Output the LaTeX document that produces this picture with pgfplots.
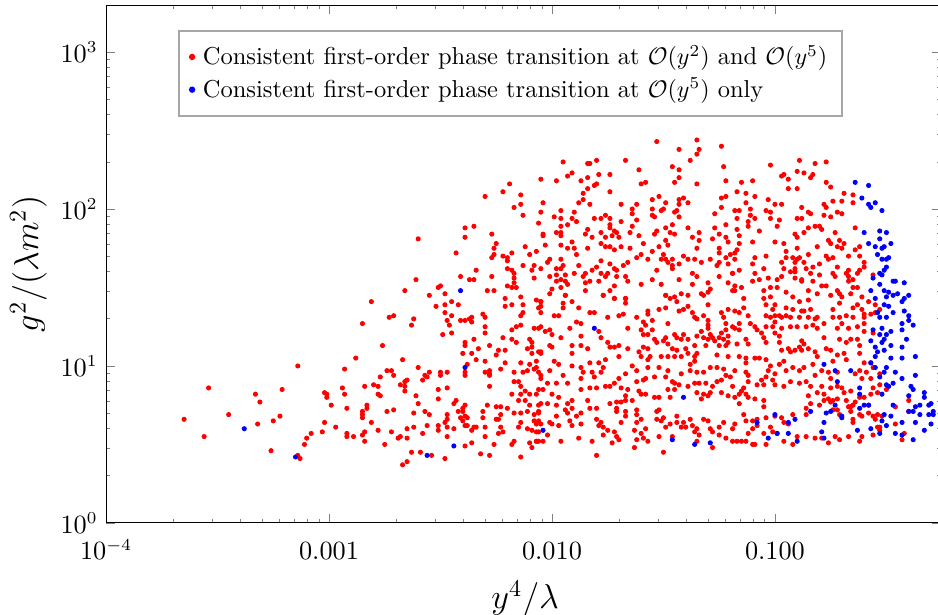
\documentclass[border=0pt]{standalone}
\usepackage{pgfplots}
\usepackage{pgfplotstable}
\pgfplotsset{compat=1.18}

% points, stored as log10(x) log10(y)
\pgfplotstableread[row sep=\\]{
lx ly\\
-3.14 1.00\\ -2.93 0.98\\ -3.54 0.86\\ -2.94 0.86\\ -3.33 0.82\\ -3.21 0.85\\ -3.02 0.83\\ -3.01 0.82\\ -3.01 0.80\\ -2.93 0.82\\
-3.31 0.77\\ -2.99 0.75\\ -2.92 0.73\\ -3.45 0.69\\ -3.65 0.66\\ -3.22 0.68\\ -3.25 0.65\\ -3.32 0.63\\ -3.02 0.64\\ -2.97 0.61\\
-3.03 0.58\\ -3.08 0.57\\ -3.10 0.54\\ -2.92 0.57\\ -2.92 0.55\\ -3.56 0.55\\ -3.11 0.50\\ -3.26 0.46\\ -3.14 0.43\\ -3.13 0.41\\
-2.19 2.16\\ -2.22 2.11\\ -2.30 2.08\\ -2.14 2.09\\ -2.05 2.19\\ -2.17 2.01\\ -2.14 2.03\\ -2.13 1.96\\ -2.05 1.98\\ -2.06 1.91\\
-2.04 1.84\\ -2.39 1.88\\ -2.35 1.89\\ -2.39 1.82\\ -2.60 1.81\\ -2.27 1.84\\ -2.25 1.78\\ -2.26 1.75\\ -2.12 1.76\\ -2.07 1.73\\
-2.10 1.71\\ -2.43 1.72\\ -2.27 1.69\\ -2.26 1.71\\ -2.22 1.70\\ -2.20 1.69\\ -2.20 1.67\\ -2.18 1.72\\ -2.13 1.64\\ -2.08 1.64\\
-2.05 1.62\\ -2.09 1.61\\ -2.20 1.62\\ -2.18 1.61\\ -2.17 1.59\\ -2.34 1.61\\ -2.08 1.56\\ -2.17 1.56\\ -2.17 1.53\\ -2.27 1.57\\
-2.41 1.57\\ -2.37 1.55\\ -2.35 1.55\\ -2.20 1.51\\ -2.18 1.50\\ -2.16 1.50\\ -2.29 1.48\\ -2.26 1.48\\ -2.61 1.55\\ -2.50 1.51\\
-2.51 1.50\\ -2.48 1.46\\ -2.55 1.45\\ -2.66 1.48\\ -2.14 1.44\\ -2.21 1.43\\ -2.07 1.42\\
-2.81 1.41\\ -2.52 1.38\\ -2.48 1.39\\ -2.45 1.41\\ -2.42 1.39\\ -2.48 1.34\\ -2.45 1.32\\ -2.47 1.29\\ -2.41 1.29\\ -2.39 1.29\\
-2.37 1.30\\ -2.36 1.31\\ -2.36 1.28\\ -2.31 1.33\\ -2.30 1.31\\ -2.30 1.25\\ -2.46 1.26\\ -2.45 1.21\\ -2.49 1.20\\ -2.73 1.31\\
-2.71 1.32\\ -2.62 1.30\\ -2.63 1.26\\ -2.85 1.27\\ -2.30 1.21\\ -2.21 1.38\\ -2.18 1.39\\ -2.13 1.39\\ -2.13 1.34\\ -2.05 1.41\\
-2.06 1.37\\ -2.05 1.34\\ -2.14 1.32\\ -2.14 1.26\\ -2.16 1.25\\ -2.18 1.23\\ -2.08 1.24\\ -2.05 1.25\\ -2.22 1.18\\ -2.18 1.17\\
-2.16 1.15\\ -2.10 1.17\\ -2.09 1.15\\ -2.11 1.11\\ -2.09 1.12\\ -2.06 1.09\\ -2.05 1.08\\ -2.09 1.08\\ -2.07 1.03\\ -2.10 1.01\\
-2.08 0.98\\ -2.07 0.99\\ -2.06 0.96\\ -2.14 1.02\\ -2.17 0.96\\ -2.13 0.96\\ -2.11 0.97\\ -2.05 0.94\\ -2.15 0.90\\ -2.17 0.90\\
-2.14 0.87\\ -2.12 0.84\\ -2.10 0.82\\ -2.07 0.82\\ -2.06 0.85\\ -2.18 0.82\\ -2.15 0.78\\ -2.12 0.78\\ -2.14 0.82\\ -2.10 0.75\\
-2.06 0.75\\ -2.06 0.71\\ -2.08 0.69\\ -2.11 0.71\\ -2.17 0.70\\ -2.20 0.73\\ -2.14 0.70\\ -2.14 0.64\\ -2.15 0.61\\ -2.08 0.65\\
-2.07 0.63\\ -2.11 0.60\\ -2.09 0.59\\ -2.07 0.58\\ -2.06 0.58\\ -2.05 0.63\\ -2.10 0.51\\ -2.07 0.52\\ -2.06 0.52\\ -2.09 0.48\\
-2.17 0.52\\ -2.18 0.50\\ -2.14 0.42\\
-2.39 1.15\\ -2.39 1.13\\ -2.35 1.17\\ -2.33 1.11\\ -2.28 1.13\\ -2.36 1.08\\ -2.40 1.08\\ -2.34 1.04\\ -2.30 1.03\\ -2.24 1.10\\
-2.21 1.10\\ -2.25 1.07\\ -2.21 1.02\\ -2.23 0.98\\ -2.38 1.01\\ -2.39 0.96\\ -2.39 0.94\\ -2.30 0.96\\ -2.28 0.95\\ -2.28 0.94\\
-2.28 0.97\\ -2.28 0.87\\ -2.76 1.13\\ -2.88 1.05\\ -2.67 1.04\\ -2.60 0.99\\ -2.55 0.96\\ -2.57 0.94\\ -2.56 0.93\\ -2.50 0.96\\
-2.47 0.96\\ -2.50 0.94\\ -2.74 0.97\\ -2.72 0.97\\ -2.71 0.94\\ -2.77 0.93\\ -2.65 0.91\\ -2.66 0.90\\ -2.68 0.88\\ -2.66 0.87\\
-2.66 0.84\\ -2.58 0.91\\ -2.80 0.88\\ -2.78 0.87\\ -2.84 0.87\\ -2.51 0.85\\ -2.47 0.86\\ -2.78 0.82\\ -2.77 0.81\\ -2.61 0.81\\
-2.51 0.79\\ -2.43 0.78\\ -2.44 0.76\\ -2.60 0.76\\ -2.39 0.75\\ -2.40 0.73\\ -2.40 0.71\\ -2.42 0.71\\ -2.29 0.75\\ -2.25 0.74\\
-2.23 0.74\\ -2.23 0.69\\ -2.25 0.66\\ -2.24 0.66\\ -2.23 0.61\\ -2.24 0.57\\ -2.22 0.58\\ -2.83 0.75\\ -2.83 0.73\\ -2.85 0.71\\
-2.85 0.69\\ -2.85 0.67\\ -2.74 0.71\\ -2.71 0.72\\ -2.62 0.70\\ -2.55 0.69\\ -2.57 0.71\\ -2.47 0.69\\ -2.47 0.66\\ -2.41 0.67\\
-2.40 0.65\\ -2.39 0.68\\ -2.38 0.67\\ -2.39 0.62\\ -2.38 0.62\\ -2.35 0.61\\ -2.34 0.61\\ -2.31 0.67\\ -2.31 0.71\\ -2.30 0.61\\
-2.36 0.59\\ -2.30 0.55\\ -2.26 0.50\\ -2.36 0.51\\ -2.39 0.49\\ -2.32 0.44\\ -2.28 0.43\\ -2.48 0.41\\ -2.54 0.43\\ -2.59 0.45\\
-2.63 0.45\\ -2.65 0.39\\ -2.67 0.37\\ -2.75 0.50\\ -2.84 0.52\\ -2.85 0.56\\ -2.84 0.58\\ -2.89 0.55\\ -2.81 0.64\\ -2.78 0.59\\
-2.72 0.58\\ -2.69 0.54\\ -2.68 0.55\\ -2.65 0.54\\ -2.62 0.61\\ -2.65 0.60\\ -2.58 0.57\\ -2.56 0.62\\ -2.51 0.62\\ -2.51 0.59\\
-2.48 0.64\\ -2.47 0.61\\ -2.47 0.55\\ -2.44 0.60\\
-1.53 2.43\\ -1.43 2.38\\ -1.35 2.44\\ -1.24 2.40\\ -1.34 2.38\\ -1.35 2.35\\ -1.23 2.27\\ -1.38 2.31\\ -1.95 2.30\\ -1.84 2.29\\
-1.83 2.29\\ -1.80 2.31\\ -1.67 2.31\\ -1.61 2.25\\ -1.46 2.27\\ -1.43 2.25\\ -1.43 2.20\\ -1.35 2.16\\ -1.45 2.17\\ -1.22 2.18\\
-1.98 2.18\\ -1.93 2.21\\ -1.91 2.23\\ -1.79 2.22\\ -1.74 2.22\\ -1.87 2.18\\ -1.84 2.20\\ -1.80 2.16\\ -1.81 2.15\\ -1.58 2.17\\
-1.60 2.16\\ -1.84 2.13\\ -1.86 2.10\\ -1.86 2.06\\ -1.88 2.04\\ -1.74 2.11\\ -1.83 2.03\\ -2.04 2.04\\ -1.96 1.99\\ -1.90 1.98\\
-1.99 1.95\\ -1.96 1.94\\ -1.91 1.94\\ -1.89 1.92\\ -1.93 1.90\\ -1.96 1.89\\ -1.81 1.94\\ -1.76 1.96\\ -1.74 1.94\\ -1.78 1.94\\
-1.74 1.90\\ -1.69 2.03\\ -1.62 2.03\\ -1.64 2.00\\ -1.64 1.97\\ -1.62 1.93\\ -1.69 1.92\\ -1.64 1.89\\ -1.55 2.06\\ -1.55 2.00\\
-1.55 1.96\\ -1.54 1.95\\ -1.52 2.08\\ -1.49 2.04\\ -1.50 2.00\\ -1.51 1.99\\ -1.45 1.98\\ -1.44 1.99\\ -1.43 1.95\\ -1.43 2.03\\
-1.41 2.07\\ -1.43 2.06\\ -1.39 2.04\\ -1.46 1.90\\ -1.49 1.88\\ -1.53 1.86\\ -1.54 1.84\\ -1.47 1.85\\ -1.45 1.84\\ -1.39 1.88\\
-1.34 1.85\\ -1.37 1.82\\ -1.34 1.80\\ -1.27 1.88\\ -1.25 1.84\\ -1.28 1.81\\ -1.24 2.01\\ -1.27 1.97\\ -1.24 2.07\\ -1.22 2.08\\
-1.22 1.90\\ -1.18 1.99\\ -1.22 1.82\\ -1.21 1.79\\ -1.25 1.75\\ -1.35 1.75\\ -1.25 1.72\\ -1.20 1.71\\ -1.18 1.72\\ -1.22 1.69\\
-1.21 1.65\\ -1.26 1.64\\ -1.25 1.66\\ -1.29 1.68\\ -1.33 1.66\\ -1.36 1.68\\ -1.41 1.70\\ -1.39 1.68\\ -1.43 1.65\\ -1.37 1.59\\
-1.35 1.57\\ -1.37 1.52\\ -1.43 1.55\\ -1.46 1.64\\ -1.46 1.62\\ -1.46 1.68\\ -1.49 1.68\\ -1.48 1.66\\ -1.51 1.68\\ -1.52 1.76\\
-1.50 1.71\\ -1.48 1.77\\ -1.49 1.80\\ -1.55 1.73\\ -1.57 1.68\\ -1.60 1.71\\ -1.62 1.69\\ -1.65 1.75\\ -1.69 1.76\\ -1.59 1.78\\
-1.61 1.83\\ -1.65 1.85\\ -1.70 1.82\\ -1.71 1.85\\ -1.72 1.86\\ -1.73 1.83\\ -1.74 1.88\\ -1.78 1.85\\ -1.76 1.82\\ -1.78 1.78\\
-1.76 1.76\\ -1.74 1.76\\ -1.72 1.74\\ -1.68 1.64\\ -1.66 1.66\\ -1.72 1.62\\ -1.74 1.65\\ -1.78 1.67\\ -1.80 1.63\\ -1.82 1.61\\
-1.78 1.59\\ -1.79 1.54\\ -1.76 1.57\\ -1.75 1.59\\ -1.71 1.61\\ -1.71 1.57\\ -1.67 1.57\\ -1.66 1.54\\ -1.72 1.51\\ -1.74 1.48\\
-1.77 1.45\\ -1.67 1.43\\ -1.72 1.43\\ -1.85 1.48\\ -1.85 1.53\\ -1.88 1.64\\ -1.85 1.59\\ -1.84 1.75\\ -1.85 1.84\\ -1.82 1.82\\
-1.84 1.87\\ -1.89 1.71\\ -1.90 1.75\\ -1.93 1.75\\ -1.91 1.79\\ -1.96 1.83\\ -1.96 1.77\\ -1.96 1.85\\ -1.98 1.85\\ -2.04 1.83\\
-2.03 1.77\\ -2.02 1.66\\ -2.01 1.68\\ -1.96 1.68\\ -1.95 1.64\\ -1.96 1.62\\ -1.98 1.62\\ -2.01 1.57\\ -1.98 1.58\\ -1.96 1.55\\
-1.94 1.58\\ -1.98 1.54\\ -1.94 1.54\\ -1.93 1.52\\ -1.96 1.50\\ -2.00 1.49\\ -2.01 1.46\\ -1.94 1.45\\ -1.90 1.59\\ -1.86 1.57\\
-1.83 1.54\\ -1.60 1.52\\ -1.55 1.55\\ -1.51 1.52\\ -1.53 1.61\\ -1.49 1.45\\ -1.47 1.43\\ -1.45 1.44\\ -1.42 1.46\\ -1.39 1.45\\
-1.33 1.46\\ -1.32 1.45\\ -1.30 1.47\\ -1.29 1.49\\ -1.30 1.53\\ -1.25 1.57\\ -1.19 1.59\\ -1.21 1.53\\ -1.18 1.48\\
-2.05 1.41\\ -2.05 1.38\\ -1.94 1.45\\ -1.95 1.40\\ -1.91 1.41\\ -1.88 1.37\\ -1.95 1.37\\ -1.99 1.32\\ -1.97 1.32\\ -1.83 1.34\\
-1.81 1.34\\ -1.77 1.45\\ -1.72 1.43\\ -1.67 1.43\\ -1.67 1.40\\ -1.75 1.31\\ -1.70 1.32\\ -1.68 1.33\\ -1.62 1.31\\ -1.57 1.35\\
-1.57 1.33\\ -1.55 1.29\\ -1.59 1.28\\ -1.58 1.26\\ -1.49 1.45\\ -1.44 1.41\\ -1.52 1.36\\ -1.49 1.37\\ -1.43 1.35\\ -1.41 1.36\\
-1.39 1.38\\ -1.37 1.34\\ -1.30 1.39\\ -1.36 1.31\\ -1.35 1.30\\ -1.32 1.32\\ -1.30 1.29\\ -1.30 1.26\\ -1.30 1.24\\ -1.24 1.34\\
-1.23 1.31\\ -1.21 1.36\\ -1.18 1.35\\ -1.22 1.27\\ -1.22 1.23\\ -1.24 1.21\\ -1.18 1.24\\
-2.06 1.24\\ -2.03 1.22\\ -2.00 1.20\\ -2.01 1.23\\ -1.96 1.18\\ -1.92 1.24\\ -1.89 1.28\\ -1.87 1.27\\ -1.87 1.19\\ -1.79 1.22\\
-1.78 1.18\\ -1.75 1.15\\ -1.74 1.12\\ -1.72 1.12\\ -1.70 1.13\\ -1.66 1.11\\ -1.66 1.24\\ -1.60 1.23\\ -1.59 1.20\\ -1.55 1.23\\
-1.57 1.20\\ -1.54 1.17\\ -1.53 1.15\\ -1.57 1.11\\ -1.59 1.12\\ -1.61 1.09\\ -1.60 1.06\\ -1.48 1.27\\ -1.49 1.18\\ -1.50 1.16\\
-1.48 1.14\\ -1.45 1.20\\ -1.44 1.18\\ -1.41 1.20\\ -1.42 1.17\\ -1.46 1.11\\ -1.44 1.10\\ -1.39 1.17\\ -1.35 1.19\\ -1.33 1.22\\
-1.32 1.18\\ -1.30 1.17\\ -1.29 1.20\\ -1.28 1.18\\ -1.25 1.18\\ -1.27 1.16\\ -1.23 1.17\\ -1.21 1.15\\ -1.21 1.19\\ -1.25 1.13\\
-1.22 1.13\\ -1.31 1.13\\ -1.35 1.08\\ -1.36 1.06\\ -1.36 1.13\\ -1.40 1.11\\ -1.39 1.08\\ -1.42 1.06\\ -1.45 1.06\\ -1.48 1.06\\
-1.51 1.06\\ -1.56 1.06\\ -1.57 1.04\\ -1.21 1.06\\ -1.26 1.07\\ -2.01 1.13\\ -2.00 1.12\\ -2.05 1.09\\ -1.91 1.13\\ -1.91 1.08\\
-1.87 1.13\\ -1.84 1.11\\ -1.76 1.04\\ -1.70 1.06\\
-1.99 1.03\\ -1.97 1.01\\ -2.01 0.97\\ -1.91 1.00\\ -1.87 0.99\\ -1.86 0.96\\ -1.83 1.02\\ -1.79 1.02\\ -1.77 0.99\\ -1.95 0.94\\
-1.87 0.92\\ -1.82 0.96\\ -1.81 0.93\\ -1.78 0.96\\ -1.70 0.92\\ -1.67 0.95\\ -1.62 0.97\\ -1.57 0.99\\ -1.52 0.99\\ -1.48 0.97\\
-1.42 0.95\\ -1.54 0.93\\ -1.58 0.92\\ -1.59 0.91\\ -1.64 1.00\\ -1.62 0.90\\ -1.49 0.93\\ -1.46 0.90\\ -1.45 0.89\\ -1.43 0.88\\
-1.45 0.85\\ -1.48 0.85\\ -1.38 1.01\\ -1.36 1.03\\ -1.38 0.97\\ -1.35 0.96\\ -1.32 0.96\\ -1.29 0.99\\ -1.26 0.99\\ -1.23 0.98\\
-1.22 0.94\\ -1.20 0.93\\ -1.24 0.91\\ -1.26 0.90\\ -1.28 0.87\\ -1.31 0.89\\ -1.34 0.89\\ -1.36 0.89\\ -1.39 0.87\\ -1.35 0.83\\
-1.32 0.82\\ -1.33 0.79\\ -1.30 0.81\\ -1.29 0.83\\ -1.24 0.83\\ -1.21 0.81\\ -1.18 0.80\\ -2.05 0.92\\ -2.02 0.89\\ -2.04 0.85\\
-2.00 0.82\\ -1.97 0.80\\ -2.05 0.76\\ -1.98 0.89\\ -1.93 0.89\\ -1.87 0.85\\ -1.83 0.86\\ -1.80 0.86\\ -1.76 0.87\\ -1.74 0.87\\
-1.72 0.89\\ -1.69 0.86\\ -1.66 0.85\\ -1.67 0.81\\ -1.61 0.84\\ -1.60 0.82\\ -1.58 0.82\\ -1.54 0.80\\ -1.52 0.80\\ -1.47 0.80\\
-2.02 0.76\\ -1.98 0.75\\ -1.93 0.76\\ -1.91 0.78\\ -1.91 0.73\\ -1.94 0.72\\ -1.93 0.70\\ -1.98 0.68\\ -1.97 0.62\\ -2.01 0.64\\
-2.00 0.63\\ -2.06 0.70\\ -2.06 0.65\\ -2.07 0.52\\ -2.04 0.52\\ -2.02 0.56\\ -1.96 0.52\\ -1.92 0.65\\ -1.91 0.62\\ -1.88 0.54\\
-1.84 0.78\\ -1.87 0.70\\ -1.89 0.68\\ -1.83 0.73\\ -1.80 0.73\\ -1.80 0.66\\ -1.79 0.62\\ -1.78 0.64\\ -1.77 0.61\\ -1.77 0.56\\
-1.75 0.59\\ -1.74 0.76\\ -1.71 0.77\\ -1.69 0.77\\ -1.67 0.78\\ -1.64 0.78\\ -1.71 0.73\\ -1.71 0.71\\ -1.67 0.71\\ -1.67 0.68\\
-1.69 0.64\\ -1.72 0.58\\ -1.71 0.55\\ -1.70 0.53\\ -1.73 0.51\\ -1.62 0.72\\ -1.62 0.69\\ -1.62 0.64\\ -1.60 0.66\\ -1.63 0.59\\
-1.58 0.60\\ -1.60 0.57\\ -1.62 0.53\\ -1.59 0.54\\ -1.57 0.52\\ -1.53 0.71\\ -1.52 0.72\\ -1.53 0.66\\ -1.51 0.65\\ -1.50 0.67\\
-1.44 0.68\\ -1.47 0.63\\ -1.49 0.61\\ -1.52 0.55\\ -1.50 0.45\\ -1.44 0.64\\ -1.42 0.61\\ -1.41 0.64\\ -1.38 0.66\\ -1.40 0.61\\
-1.37 0.62\\ -1.36 0.58\\ -1.35 0.60\\ -1.32 0.66\\ -1.30 0.65\\ -1.29 0.60\\ -1.28 0.58\\ -1.34 0.56\\ -1.35 0.52\\ -1.28 0.48\\
-1.25 0.56\\ -1.22 0.54\\ -1.19 0.52\\ -1.23 0.64\\ -1.25 0.61\\ -1.17 0.52\\ -1.46 0.55\\ -1.63 0.48\\ -1.82 0.52\\ -1.80 0.43\\
-1.87 0.63\\
-0.90 2.24\\ -0.87 2.23\\ -0.84 2.20\\ -0.83 2.22\\ -0.97 2.21\\ -0.96 2.22\\ -0.94 2.19\\ -1.15 2.17\\ -1.10 2.18\\ -1.17 2.11\\
-1.13 2.10\\ -1.09 2.08\\ -0.94 2.13\\ -0.90 2.13\\ -0.77 2.17\\ -0.75 2.14\\ -0.69 2.10\\ -0.65 2.09\\ -1.13 2.04\\ -1.03 2.06\\
-1.00 2.03\\ -0.97 2.03\\ -1.11 2.00\\ -1.16 1.99\\ -1.11 1.96\\ -1.04 1.99\\ -1.02 1.98\\ -0.88 2.01\\ -0.85 1.98\\ -0.84 1.97\\
-0.78 2.03\\ -0.77 2.01\\ -0.74 2.05\\ -0.70 2.05\\ -0.65 2.04\\ -0.72 1.98\\ -0.70 1.97\\ -0.75 1.95\\ -0.78 1.96\\ -1.17 1.94\\
-1.09 1.94\\ -1.12 1.92\\ -1.12 1.89\\ -1.02 1.94\\ -0.98 1.93\\ -0.90 1.94\\ -0.88 1.94\\ -1.17 1.87\\ -1.07 1.86\\ -0.99 1.89\\
-0.85 1.88\\ -0.82 1.89\\ -0.80 1.89\\ -0.79 1.87\\ -0.64 1.88\\ -1.16 1.83\\ -0.91 1.84\\ -0.87 1.85\\ -0.90 1.82\\ -0.73 1.85\\
-1.10 1.79\\ -1.00 1.79\\ -0.96 1.78\\ -1.16 1.78\\ -0.76 1.80\\ -0.75 1.78\\ -0.71 1.80\\ -0.69 1.78\\ -0.72 1.76\\ -0.70 1.75\\
-0.62 1.76\\ -0.81 1.76\\ -0.90 1.75\\ -0.95 1.73\\ -1.17 1.74\\ -1.18 1.68\\ -1.09 1.69\\ -1.04 1.70\\ -0.95 1.69\\ -0.92 1.69\\
-0.89 1.69\\ -0.90 1.68\\ -0.87 1.66\\ -0.85 1.71\\ -0.77 1.70\\ -0.76 1.68\\ -0.74 1.69\\ -0.64 1.74\\ -0.67 1.70\\ -0.62 1.70\\
-0.60 1.66\\ -1.10 1.65\\ -1.05 1.62\\ -0.96 1.62\\ -0.91 1.62\\ -0.97 1.66\\ -0.91 1.66\\ -0.91 1.60\\ -0.93 1.60\\ -0.86 1.62\\
-0.83 1.63\\ -0.80 1.65\\ -0.72 1.63\\ -0.67 1.61\\ -0.62 1.61\\ -0.60 1.63\\ -0.63 1.59\\ -1.16 1.61\\ -1.19 1.59\\ -0.74 1.59\\
-0.73 1.57\\ -0.68 1.59\\ -0.67 1.57\\ -0.56 1.58\\ -1.09 1.59\\ -0.97 1.57\\ -0.99 1.55\\ -0.91 1.56\\ -0.88 1.55\\ -0.84 1.59\\
-0.80 1.58\\ -1.10 1.54\\ -1.07 1.55\\ -1.03 1.56\\ -1.18 1.51\\ -1.15 1.50\\ -1.19 1.48\\ -1.14 1.43\\ -1.05 1.48\\ -1.02 1.50\\
-0.99 1.50\\ -0.88 1.54\\ -0.83 1.54\\ -0.79 1.51\\ -0.77 1.51\\ -0.85 1.48\\ -0.81 1.46\\ -0.75 1.45\\ -0.72 1.48\\ -0.71 1.46\\
-0.70 1.44\\ -0.67 1.54\\ -0.65 1.55\\ -0.65 1.50\\ -0.66 1.46\\ -0.63 1.50\\ -0.61 1.44\\ -0.58 1.41\\ -1.05 1.43\\ -1.02 1.44\\
-0.95 1.47\\ -0.92 1.44\\ -0.89 1.41\\ -0.85 1.42\\ -1.04 1.39\\ -1.00 1.39\\ -1.01 1.36\\ -0.95 1.37\\ -0.92 1.36\\ -0.88 1.35\\
-0.84 1.36\\ -0.74 1.36\\ -0.71 1.40\\ -0.65 1.37\\ -0.63 1.39\\ -0.61 1.36\\ -0.60 1.33\\ -0.57 1.33\\ -0.55 1.39\\ -0.55 1.34\\
-0.53 1.36\\ -1.14 1.37\\ -1.16 1.34\\ -1.12 1.32\\ -1.04 1.32\\ -1.00 1.32\\ -0.98 1.32\\ -0.95 1.32\\ -0.87 1.35\\ -0.81 1.31\\
-0.74 1.31\\ -0.68 1.32\\ -0.65 1.31\\ -0.89 2.31\\ -0.82 2.29\\ -1.02 2.28\\ -0.77 2.30\\
-1.19 1.25\\ -1.16 1.27\\ -1.16 1.23\\ -1.11 1.27\\ -1.09 1.25\\ -1.08 1.23\\ -1.02 1.31\\ -0.97 1.31\\ -0.93 1.31\\ -0.89 1.31\\
-0.85 1.31\\ -0.82 1.30\\ -0.78 1.27\\ -0.71 1.31\\ -0.60 1.31\\ -1.00 1.28\\ -1.01 1.25\\ -1.04 1.25\\ -1.06 1.21\\ -1.05 1.18\\
-1.00 1.21\\ -0.98 1.19\\ -0.97 1.24\\ -0.93 1.25\\ -0.90 1.25\\ -0.86 1.25\\ -0.83 1.26\\ -0.81 1.24\\ -0.78 1.18\\ -0.72 1.24\\
-0.70 1.27\\ -0.67 1.24\\ -0.63 1.25\\ -0.60 1.27\\ -0.60 1.22\\ -0.56 1.21\\ -0.71 1.17\\ -0.68 1.15\\ -0.66 1.17\\ -0.63 1.17\\
-1.13 1.17\\ -1.17 1.14\\ -1.12 1.14\\ -1.16 1.06\\ -1.13 1.05\\ -1.13 1.02\\ -1.18 0.97\\ -1.13 0.96\\ -1.12 0.94\\ -1.09 1.05\\
-1.07 1.05\\ -1.04 1.04\\ -1.02 1.00\\ -0.98 1.01\\ -0.96 1.03\\ -0.93 1.09\\ -0.94 1.11\\ -0.91 1.10\\ -0.89 1.12\\ -0.88 1.10\\
-0.87 1.14\\ -0.88 1.16\\ -0.85 1.11\\ -0.82 1.09\\ -0.81 1.06\\ -0.77 1.11\\ -0.75 1.10\\ -0.74 1.03\\ -0.72 1.07\\ -0.69 1.08\\
-0.68 1.04\\ -0.62 1.08\\ -0.62 1.13\\ -0.60 1.02\\ -0.57 1.02\\ -1.04 1.15\\ -0.98 1.15\\ -0.97 1.10\\ -1.03 0.97\\ -1.00 0.95\\
-0.95 0.97\\ -0.92 0.99\\ -0.89 0.97\\ -0.87 0.99\\ -0.83 1.01\\ -0.82 0.94\\ -0.79 0.97\\ -0.76 0.96\\ -0.72 0.96\\ -0.75 0.92\\
-0.75 0.86\\ -0.72 0.87\\ -0.70 0.86\\ -0.69 0.83\\ -0.72 0.79\\ -0.74 0.78\\ -0.76 0.79\\ -0.78 0.82\\ -0.81 0.83\\ -0.79 0.87\\
-0.84 0.87\\ -0.86 0.90\\ -0.89 0.89\\ -0.93 0.90\\ -0.96 0.87\\ -1.00 0.88\\ -1.01 0.91\\ -1.04 0.93\\ -1.06 0.91\\ -1.05 0.88\\
-1.08 0.88\\ -1.12 0.90\\ -1.14 0.86\\ -1.15 0.84\\ -1.13 0.82\\ -1.16 0.82\\ -1.19 0.87\\ -1.12 0.80\\ -1.09 0.79\\ -1.05 0.78\\
-1.05 0.74\\ -1.16 0.76\\ -1.14 0.69\\ -1.13 0.65\\ -1.18 0.63\\ -1.10 0.65\\ -1.08 0.66\\ -1.04 0.67\\ -1.00 0.68\\ -0.97 0.67\\
-0.96 0.64\\ -0.92 0.69\\ -0.94 0.63\\ -0.85 0.81\\ -0.84 0.76\\ -0.86 0.73\\ -0.86 0.69\\ -0.80 0.75\\ -0.78 0.78\\ -0.75 0.77\\
-0.74 0.72\\ -0.72 0.72\\ -0.71 0.69\\ -0.68 0.78\\ -0.66 0.74\\ -0.64 0.77\\ -0.66 0.84\\ -0.62 0.80\\ -0.65 0.64\\ -0.58 0.70\\
-0.56 0.68\\ -0.54 0.61\\ -0.54 0.69\\ -0.56 0.56\\ -0.53 0.59\\ -0.57 0.82\\ -0.56 0.86\\ -0.54 0.83\\ -0.50 0.85\\ -0.53 0.88\\
-0.56 0.99\\ -0.57 0.92\\ -0.62 0.97\\ -0.64 0.95\\ -0.61 0.92\\ -0.59 0.96\\ -0.53 0.95\\ -0.58 0.75\\ -0.62 0.69\\ -0.60 0.80\\
-0.40 0.78\\ -0.40 0.71\\ -0.46 0.74\\ -0.46 0.63\\ -0.42 0.57\\ -0.43 0.53\\ -0.62 0.52\\ -0.67 0.55\\ -0.71 0.53\\ -0.73 0.55\\
-0.76 0.51\\ -0.79 0.54\\ -0.82 0.54\\ -0.86 0.55\\ -0.90 0.55\\ -0.92 0.50\\ -0.96 0.52\\ -0.99 0.57\\ -1.01 0.58\\ -1.02 0.61\\
-1.05 0.57\\ -1.08 0.62\\ -1.10 0.60\\ -1.12 0.57\\ -1.19 0.60\\ -1.15 0.52\\ -1.13 0.52\\ -1.10 0.50\\ -1.09 0.50\\ -1.04 0.50\\
-0.65 0.75\\ -0.67 0.74\\ -0.66 0.71\\ -0.65 0.66\\ -0.61 0.68\\ -0.55 0.66\\ -0.53 0.61\\ -0.52 0.68\\ -0.61 0.55\\
}\redpts

\pgfplotstableread[row sep=\\]{
lx ly\\
-3.38 0.60\\ -3.15 0.42\\ -2.41 1.48\\ -2.39 0.99\\ -2.44 0.49\\ -2.56 0.43\\ -1.81 1.24\\ -1.41 0.80\\ -2.04 0.59\\ -1.46 0.53\\
-1.36 0.50\\ -1.29 0.51\\
-0.64 2.17\\ -0.58 2.15\\ -0.61 2.07\\ -0.58 2.03\\ -0.57 2.01\\ -0.55 2.04\\ -0.52 1.99\\ -0.60 1.85\\ -0.53 1.86\\ -0.50 1.85\\
-0.53 1.81\\ -0.58 1.78\\ -0.55 1.76\\ -0.51 1.76\\ -0.48 1.78\\ -0.52 1.75\\ -0.54 1.71\\ -0.50 1.68\\ -0.52 1.68\\ -0.49 1.69\\
-0.50 1.63\\ -0.51 1.61\\ -0.53 1.59\\ -0.52 1.58\\ -0.56 1.56\\ -0.47 1.54\\ -0.46 1.54\\ -0.42 1.53\\ -0.53 1.52\\ -0.51 1.48\\
-0.49 1.47\\ -0.45 1.46\\ -0.47 1.45\\ -0.40 1.45\\ -0.57 1.48\\ -0.55 1.43\\ -0.50 1.44\\ -0.42 1.43\\ -0.43 1.41\\ -0.51 1.39\\
-0.49 1.38\\ -0.47 1.34\\ -0.54 1.34\\ -0.53 1.31\\ -0.50 1.31\\ -0.42 1.35\\ -0.40 1.32\\
-0.40 1.29\\ -0.38 1.26\\ -0.43 1.27\\ -0.43 1.23\\ -0.48 1.22\\ -0.50 1.20\\ -0.52 1.24\\ -0.56 1.23\\ -0.53 1.20\\ -0.51 1.17\\
-0.52 1.15\\ -0.57 1.16\\ -0.55 1.12\\ -0.48 1.13\\ -0.41 1.17\\ -0.43 1.12\\ -0.51 1.10\\ -0.54 1.09\\ -0.55 1.06\\ -0.48 1.05\\
-0.43 1.05\\ -0.37 1.06\\ -0.57 1.02\\ -0.55 0.99\\ -0.50 0.99\\ -0.46 0.96\\ -0.51 0.96\\ -0.53 0.93\\ -0.43 0.92\\ -0.37 0.94\\
-0.66 0.97\\ -0.73 0.97\\ -0.78 1.01\\ -0.72 0.90\\ -0.62 0.86\\ -0.50 0.88\\ -0.47 0.89\\ -0.49 0.87\\ -0.52 0.82\\ -0.62 0.82\\
-0.39 0.87\\ -0.38 0.85\\ -0.40 0.81\\ -0.33 0.83\\ -0.33 0.80\\ -0.60 0.75\\ -0.58 0.75\\ -0.62 0.73\\ -0.47 0.75\\ -0.37 0.74\\
-0.35 0.75\\ -0.30 0.76\\ -0.31 0.75\\ -0.40 0.71\\ -0.38 0.71\\ -0.35 0.69\\ -0.31 0.69\\ -0.29 0.71\\ -0.29 0.69\\ -0.30 0.63\\
-0.48 0.68\\ -0.51 0.69\\ -0.52 0.65\\ -0.50 0.62\\ -0.43 0.64\\ -0.37 0.64\\ -0.33 0.59\\ -0.38 0.53\\ -0.46 0.57\\ -0.53 0.57\\
-0.57 0.60\\ -0.63 0.59\\ -0.70 0.68\\ -0.73 0.75\\ -0.75 0.71\\ -0.77 0.70\\ -0.78 0.64\\ -0.78 0.54\\ -0.79 0.58\\ -0.84 0.71\\
-1.00 0.69\\ -1.08 0.64\\ -0.99 0.57\\ -1.03 0.54\\ -0.94 0.64\\ -0.91 0.66\\ -0.94 0.57\\ -0.90 0.52\\ -0.70 0.67\\ -0.43 0.56\\
}\bluepts

\begin{document}
\begin{tikzpicture}
\begin{axis}[
    scale only axis,
    width=347.9pt, height=215.8pt,
    xmode=log, ymode=log,
    xmin=1e-4, xmax=0.555,
    ymin=1, ymax=1995,
    xtick={1e-4,1e-3,1e-2,1e-1},
    xticklabels={$10^{-4}$,$0.001$,$0.010$,$0.100$},
    ytick={1,10,100,1000},
    tick align=inside,
    major tick length=3.6pt,
    minor tick length=1.8pt,
    tick label style={font=\fontsize{10.5}{12.6}\selectfont},
    xticklabel style={anchor=base, yshift=-15.4pt},
    xlabel={$y^4/\lambda$},
    ylabel={$g^2/(\lambda m^2)$},
    xlabel style={at={(axis description cs:0.502,-0.147)}, anchor=center, font=\Large},
    ylabel style={at={(axis description cs:-0.093,0.5)}, anchor=center, font=\Large},
    legend style={at={(0.086,0.952)}, anchor=north west,
        draw=black!35, line width=0.9pt, inner xsep=4pt, inner ysep=4pt,
        font=\fontsize{10.2}{12.2}\selectfont},
    legend cell align=left,
    legend image code/.code={\draw[#1] plot coordinates {(2.5pt,0pt)};
        \path[draw=none] (1pt,0pt) -- (5pt,0pt);},
]
\addplot[only marks, mark=*, mark size=0.85pt, color=red, mark options={draw=none, fill=red}]
    table[x expr=10^(\thisrow{lx}), y expr=10^(\thisrow{ly})] {\redpts};
\addlegendentry{Consistent first-order phase transition at $\mathcal{O}(y^2)$ and $\mathcal{O}(y^5)$}
\addplot[only marks, mark=*, mark size=0.85pt, color=blue, mark options={draw=none, fill=blue}]
    table[x expr=10^(\thisrow{lx}), y expr=10^(\thisrow{ly})] {\bluepts};
\addlegendentry{Consistent first-order phase transition at $\mathcal{O}(y^5)$ only}
\end{axis}
\pgfresetboundingbox
\path (-44.2pt,-38.3pt) rectangle (346.7pt,217.9pt);
\end{tikzpicture}
\end{document}
